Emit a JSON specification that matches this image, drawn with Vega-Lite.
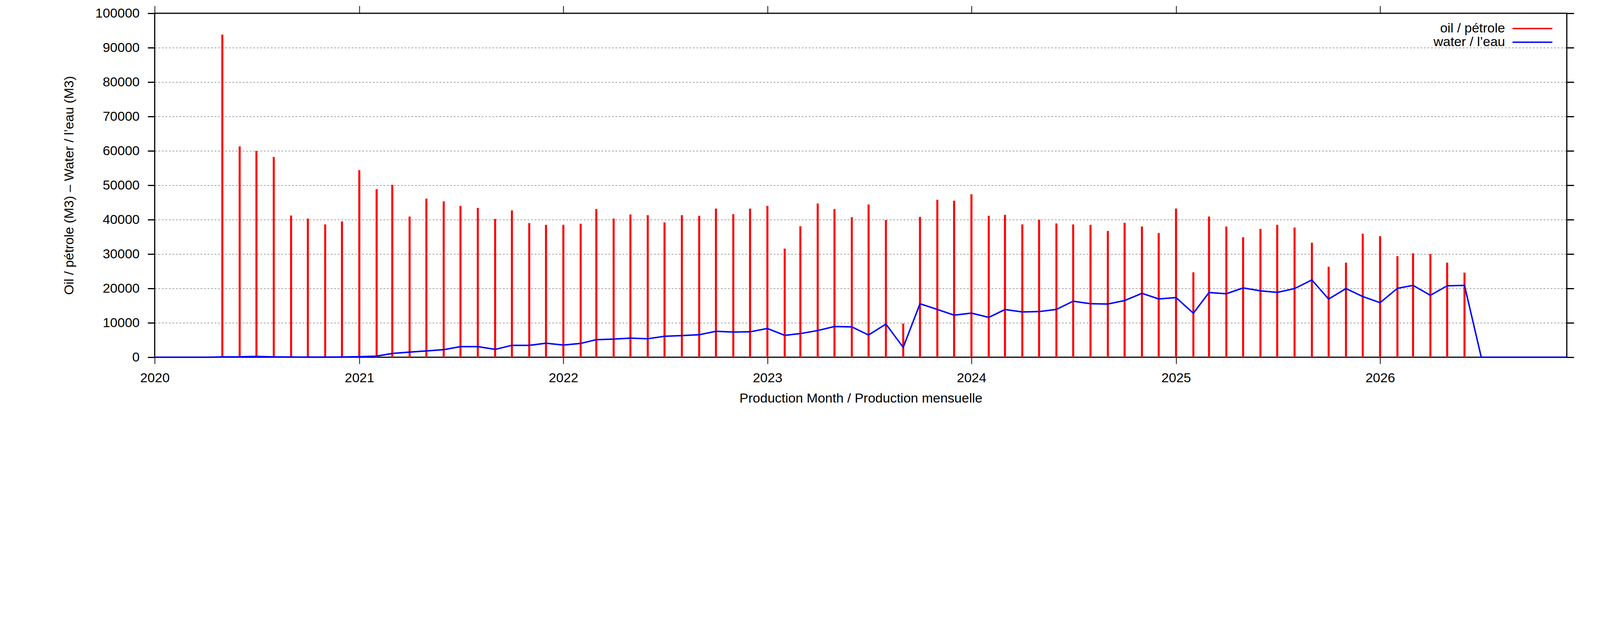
{
  "$schema": "https://vega.github.io/schema/vega-lite/v6.json",
  "width": 3615,
  "height": 880,
  "autosize": "none",
  "padding": {"left": 396, "top": 34, "right": 79, "bottom": 275},
  "background": "white",
  "data": {
    "values": [
      {"month": "2020-01-01", "oil": 0, "water": 0},
      {"month": "2020-02-01", "oil": 0, "water": 0},
      {"month": "2020-03-01", "oil": 0, "water": 0},
      {"month": "2020-04-01", "oil": 0, "water": 0},
      {"month": "2020-05-01", "oil": 93800, "water": 100},
      {"month": "2020-06-01", "oil": 61300, "water": 120},
      {"month": "2020-07-01", "oil": 60000, "water": 250},
      {"month": "2020-08-01", "oil": 58200, "water": 100},
      {"month": "2020-09-01", "oil": 41200, "water": 60},
      {"month": "2020-10-01", "oil": 40300, "water": 50},
      {"month": "2020-11-01", "oil": 38600, "water": 50},
      {"month": "2020-12-01", "oil": 39500, "water": 60},
      {"month": "2021-01-01", "oil": 54400, "water": 150},
      {"month": "2021-02-01", "oil": 48900, "water": 330},
      {"month": "2021-03-01", "oil": 50100, "water": 1100},
      {"month": "2021-04-01", "oil": 40900, "water": 1500},
      {"month": "2021-05-01", "oil": 46100, "water": 1840},
      {"month": "2021-06-01", "oil": 45300, "water": 2200},
      {"month": "2021-07-01", "oil": 44000, "water": 3090},
      {"month": "2021-08-01", "oil": 43400, "water": 3090},
      {"month": "2021-09-01", "oil": 40200, "water": 2280},
      {"month": "2021-10-01", "oil": 42700, "water": 3460},
      {"month": "2021-11-01", "oil": 39000, "water": 3460},
      {"month": "2021-12-01", "oil": 38500, "water": 4080},
      {"month": "2022-01-01", "oil": 38500, "water": 3530},
      {"month": "2022-02-01", "oil": 38800, "water": 4010},
      {"month": "2022-03-01", "oil": 43100, "water": 5110},
      {"month": "2022-04-01", "oil": 40300, "water": 5260},
      {"month": "2022-05-01", "oil": 41500, "water": 5550},
      {"month": "2022-06-01", "oil": 41300, "water": 5370},
      {"month": "2022-07-01", "oil": 39200, "water": 6100},
      {"month": "2022-08-01", "oil": 41300, "water": 6290},
      {"month": "2022-09-01", "oil": 41100, "water": 6540},
      {"month": "2022-10-01", "oil": 43200, "water": 7540},
      {"month": "2022-11-01", "oil": 41600, "water": 7320},
      {"month": "2022-12-01", "oil": 43200, "water": 7390},
      {"month": "2023-01-01", "oil": 44000, "water": 8350},
      {"month": "2023-02-01", "oil": 31600, "water": 6360},
      {"month": "2023-03-01", "oil": 38100, "water": 6880},
      {"month": "2023-04-01", "oil": 44700, "water": 7760},
      {"month": "2023-05-01", "oil": 43100, "water": 8930},
      {"month": "2023-06-01", "oil": 40700, "water": 8820},
      {"month": "2023-07-01", "oil": 44400, "water": 6470},
      {"month": "2023-08-01", "oil": 39900, "water": 9630},
      {"month": "2023-09-01", "oil": 9800, "water": 2870},
      {"month": "2023-10-01", "oil": 40800, "water": 15550},
      {"month": "2023-11-01", "oil": 45800, "water": 13900},
      {"month": "2023-12-01", "oil": 45500, "water": 12240},
      {"month": "2024-01-01", "oil": 47400, "water": 12830},
      {"month": "2024-02-01", "oil": 41100, "water": 11580},
      {"month": "2024-03-01", "oil": 41400, "water": 13860},
      {"month": "2024-04-01", "oil": 38600, "water": 13160},
      {"month": "2024-05-01", "oil": 40000, "water": 13270},
      {"month": "2024-06-01", "oil": 38900, "water": 13900},
      {"month": "2024-07-01", "oil": 38600, "water": 16290},
      {"month": "2024-08-01", "oil": 38500, "water": 15550},
      {"month": "2024-09-01", "oil": 36700, "water": 15480},
      {"month": "2024-10-01", "oil": 39100, "water": 16470},
      {"month": "2024-11-01", "oil": 38000, "water": 18570},
      {"month": "2024-12-01", "oil": 36100, "water": 16950},
      {"month": "2025-01-01", "oil": 43200, "water": 17350},
      {"month": "2025-02-01", "oil": 24700, "water": 12790},
      {"month": "2025-03-01", "oil": 40900, "water": 18820},
      {"month": "2025-04-01", "oil": 38000, "water": 18460},
      {"month": "2025-05-01", "oil": 34900, "water": 20150},
      {"month": "2025-06-01", "oil": 37300, "water": 19300},
      {"month": "2025-07-01", "oil": 38500, "water": 18860},
      {"month": "2025-08-01", "oil": 37700, "water": 19960},
      {"month": "2025-09-01", "oil": 33300, "water": 22460},
      {"month": "2025-10-01", "oil": 26300, "water": 16910},
      {"month": "2025-11-01", "oil": 27500, "water": 19960},
      {"month": "2025-12-01", "oil": 35900, "water": 17650},
      {"month": "2026-01-01", "oil": 35200, "water": 15850},
      {"month": "2026-02-01", "oil": 29400, "water": 20040},
      {"month": "2026-03-01", "oil": 30200, "water": 20880},
      {"month": "2026-04-01", "oil": 30000, "water": 18010},
      {"month": "2026-05-01", "oil": 27500, "water": 20770},
      {"month": "2026-06-01", "oil": 24600, "water": 20880},
      {"month": "2026-07-01", "oil": 0, "water": 0},
      {"month": "2026-08-01", "oil": 0, "water": 0},
      {"month": "2026-09-01", "oil": 0, "water": 0},
      {"month": "2026-10-01", "oil": 0, "water": 0},
      {"month": "2026-11-01", "oil": 0, "water": 0},
      {"month": "2026-12-01", "oil": 0, "water": 0}
    ]
  },
  "layer": [
    {
      "mark": {"type": "rule", "strokeWidth": 5.2, "strokeCap": "butt"},
      "encoding": {
        "x": {
          "field": "month",
          "type": "temporal",
          "scale": {
            "type": "utc",
            "domain": [
              {"year": 2020, "month": 1, "date": 1, "utc": true},
              {"year": 2026, "month": 12, "date": 1, "utc": true}
            ]
          },
          "axis": {
            "orient": "bottom",
            "values": [
              {"year": 2020, "month": 1, "date": 1, "utc": true},
              {"year": 2021, "month": 1, "date": 1, "utc": true},
              {"year": 2022, "month": 1, "date": 1, "utc": true},
              {"year": 2023, "month": 1, "date": 1, "utc": true},
              {"year": 2024, "month": 1, "date": 1, "utc": true},
              {"year": 2025, "month": 1, "date": 1, "utc": true},
              {"year": 2026, "month": 1, "date": 1, "utc": true}
            ],
            "format": "%Y",
            "grid": false,
            "domain": false,
            "tickSize": 17,
            "tickWidth": 1.9,
            "labelPadding": 19,
            "title": "Production Month / Production mensuelle",
            "titlePadding": 18
          }
        },
        "y": {
          "field": "oil",
          "type": "quantitative",
          "scale": {"domain": [0, 100000], "nice": false},
          "axis": {
            "orient": "left",
            "values": [0, 10000, 20000, 30000, 40000, 50000, 60000, 70000, 80000, 90000, 100000],
            "format": "d",
            "grid": true,
            "gridColor": "#000000",
            "gridOpacity": 0.7,
            "gridWidth": 1.1,
            "gridDash": [4.5, 4.5],
            "domain": false,
            "tickSize": 18,
            "tickWidth": 3,
            "labelPadding": 21,
            "title": "Oil / pétrole (M3)  –  Water / l’eau (M3)",
            "titlePadding": 49
          }
        },
        "y2": {"datum": 0},
        "color": {
          "datum": "oil / pétrole",
          "type": "nominal",
          "scale": {
            "domain": ["oil / pétrole", "water / l’eau"],
            "range": ["#ff0000", "#0000ff"]
          },
          "legend": {
            "title": null,
            "orient": "none",
            "legendX": 3510,
            "legendY": 22,
            "padding": 0,
            "symbolType": "M-12,0H12",
            "symbolSize": 72.25,
            "symbolStrokeWidth": 3.7,
            "labelAlign": "right",
            "labelOffset": -87,
            "labelLimit": 0,
            "labelFontSize": 34,
            "labelFont": "Liberation Sans",
            "labelColor": "#000000",
            "rowPadding": 1
          }
        }
      }
    },
    {
      "mark": {"type": "line", "strokeWidth": 3.7, "strokeJoin": "miter"},
      "encoding": {
        "x": {
          "field": "month",
          "type": "temporal",
          "axis": {
            "orient": "top",
            "values": [
              {"year": 2020, "month": 1, "date": 1, "utc": true},
              {"year": 2021, "month": 1, "date": 1, "utc": true},
              {"year": 2022, "month": 1, "date": 1, "utc": true},
              {"year": 2023, "month": 1, "date": 1, "utc": true},
              {"year": 2024, "month": 1, "date": 1, "utc": true},
              {"year": 2025, "month": 1, "date": 1, "utc": true},
              {"year": 2026, "month": 1, "date": 1, "utc": true}
            ],
            "labels": false,
            "grid": false,
            "domain": false,
            "tickSize": 19,
            "tickWidth": 1.9,
            "title": null
          }
        },
        "y": {
          "field": "water",
          "type": "quantitative",
          "axis": {
            "orient": "right",
            "values": [0, 10000, 20000, 30000, 40000, 50000, 60000, 70000, 80000, 90000, 100000],
            "labels": false,
            "grid": false,
            "domain": false,
            "tickSize": 18,
            "tickWidth": 3,
            "title": null
          }
        },
        "color": {"datum": "water / l’eau", "type": "nominal"}
      }
    }
  ],
  "resolve": {"axis": {"x": "independent", "y": "independent"}},
  "config": {
    "view": {"stroke": "#000000", "strokeWidth": 3},
    "font": "Liberation Sans",
    "axis": {
      "labelFont": "Liberation Sans",
      "labelFontSize": 34,
      "labelColor": "#000000",
      "labelFlush": false,
      "labelOverlap": false,
      "labelBound": false,
      "tickColor": "#000000",
      "titleFont": "Liberation Sans",
      "titleFontSize": 34,
      "titleFontWeight": "normal",
      "titleColor": "#000000"
    }
  }
}
